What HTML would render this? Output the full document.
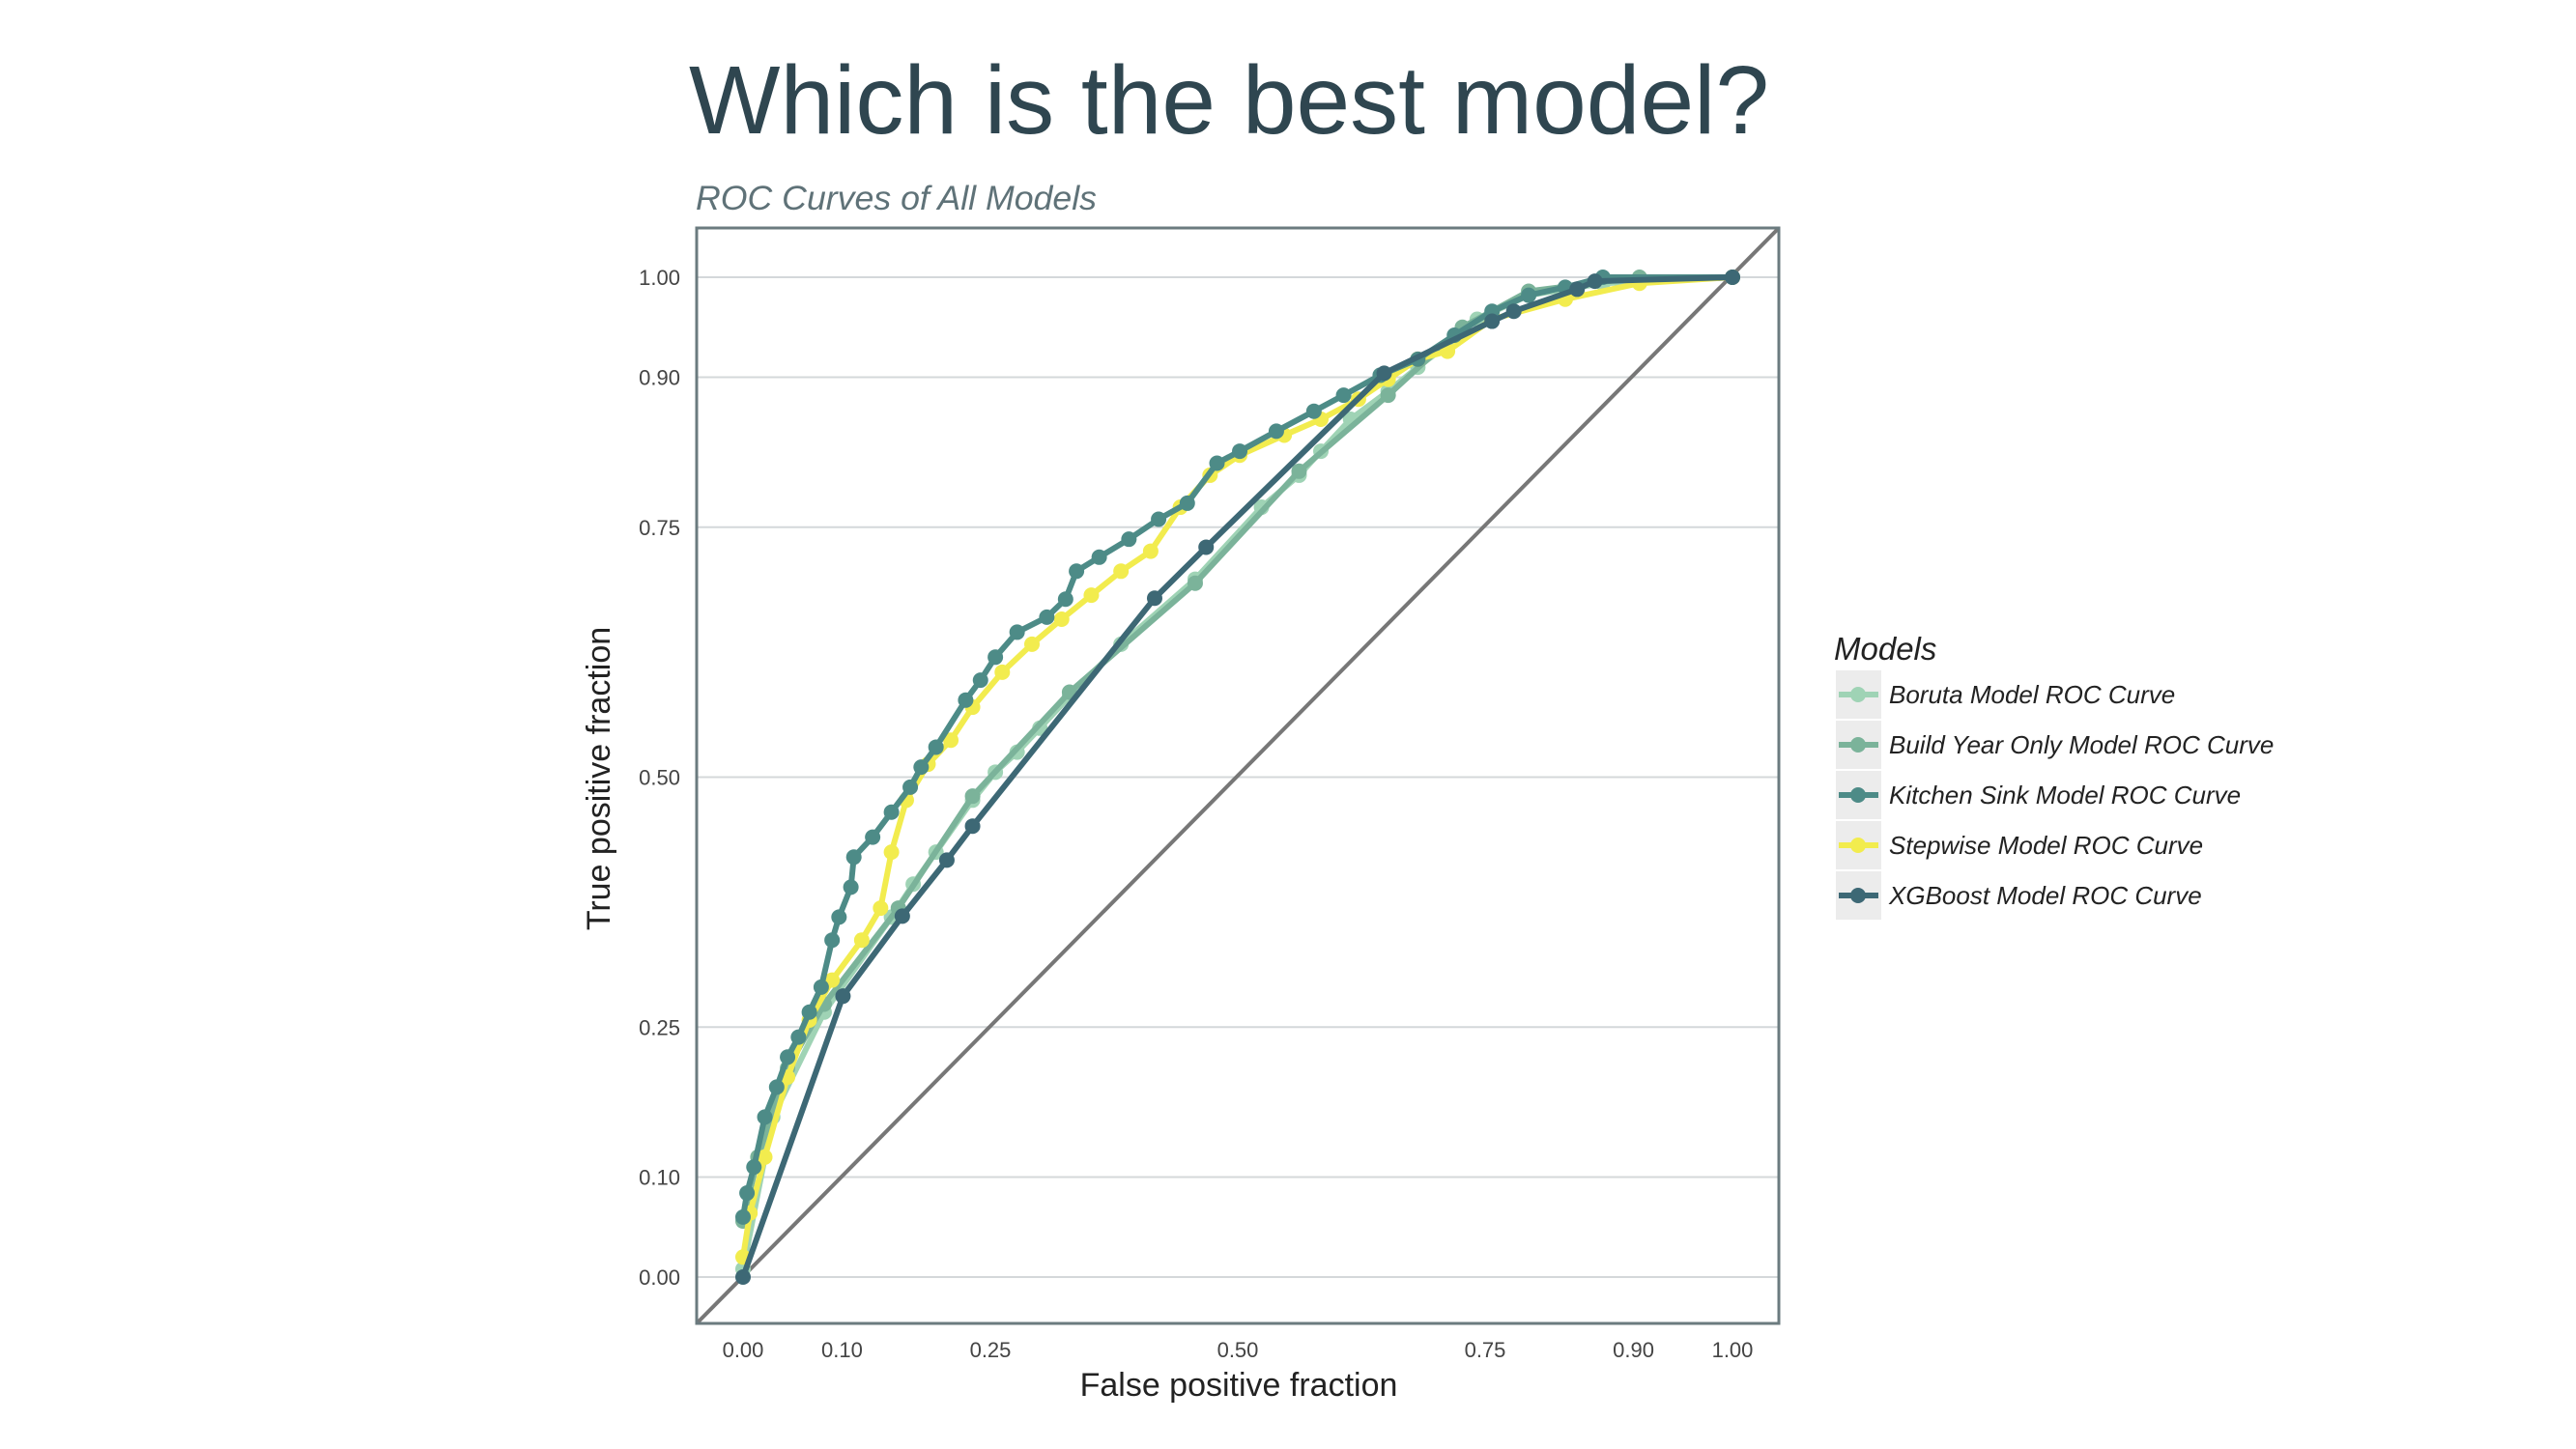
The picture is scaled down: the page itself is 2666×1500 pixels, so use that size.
<!DOCTYPE html>
<html><head><meta charset="utf-8"><style>
html,body{margin:0;padding:0;background:#fff}
svg{display:block;font-family:"Liberation Sans",sans-serif}
</style></head><body>
<svg id="chart" width="2666" height="1500" viewBox="0 0 2666 1500">
<text x="713" y="138" font-size="100" fill="#2f4650" textLength="1118" lengthAdjust="spacingAndGlyphs">Which is the best model?</text>
<text x="720" y="217" font-size="35" font-style="italic" fill="#5f7278" textLength="415" lengthAdjust="spacingAndGlyphs">ROC Curves of All Models</text>
<g id="grid"></g>
<g id="series"></g>
<rect x="721" y="236" width="1120" height="1134" fill="none" stroke="#6b7b7f" stroke-width="3"/>
<g id="ticks"></g>
<text x="1282" y="1445" font-size="34" text-anchor="middle" fill="#222">False positive fraction</text>
<text transform="translate(631,806) rotate(-90)" font-size="34" text-anchor="middle" fill="#222">True positive fraction</text>
<g id="legend"></g>
</svg>
<script>
const tickVals = [0, 0.10, 0.25, 0.50, 0.75, 0.90, 1.00];
const tickLabels = ["0.00","0.10","0.25","0.50","0.75","0.90","1.00"];
const seriesNames = ["Boruta Model ROC Curve","Build Year Only Model ROC Curve","Kitchen Sink Model ROC Curve","Stepwise Model ROC Curve","XGBoost Model ROC Curve"];
const seriesColors = ["#9fd3b5","#7bb39a","#4d8b87","#f2ec4e","#3d6875"];
const borutaFpr = [0,0.03,0.082,0.15,0.172,0.195,0.232,0.255,0.277,0.3,0.33,0.382,0.457,0.524,0.562,0.584,0.614,0.652,0.682,0.719,0.742,0.794,0.869,1];
const borutaTpr = [0.008,0.16,0.265,0.36,0.393,0.425,0.477,0.505,0.525,0.549,0.581,0.633,0.698,0.77,0.802,0.826,0.858,0.886,0.91,0.938,0.958,0.982,0.994,1];
const buildFpr = [0,0.015,0.045,0.082,0.157,0.232,0.33,0.457,0.562,0.652,0.727,0.794,0.906,1];
const buildTpr = [0.056,0.12,0.209,0.273,0.369,0.481,0.585,0.694,0.806,0.882,0.95,0.986,1,1];
const sinkFpr = [0,0.004,0.011,0.022,0.034,0.045,0.056,0.067,0.079,0.09,0.097,0.109,0.112,0.131,0.15,0.169,0.18,0.195,0.225,0.24,0.255,0.277,0.307,0.326,0.337,0.36,0.39,0.42,0.449,0.479,0.502,0.539,0.577,0.607,0.644,0.682,0.719,0.757,0.794,0.831,0.869,1];
const sinkTpr = [0.06,0.084,0.11,0.16,0.19,0.22,0.24,0.265,0.29,0.337,0.36,0.39,0.42,0.44,0.465,0.49,0.51,0.53,0.577,0.597,0.62,0.645,0.66,0.678,0.706,0.72,0.738,0.758,0.774,0.814,0.826,0.846,0.866,0.882,0.902,0.918,0.942,0.966,0.982,0.99,1,1];
const stepFpr = [0,0.007,0.022,0.045,0.067,0.09,0.12,0.139,0.15,0.165,0.187,0.21,0.232,0.262,0.292,0.322,0.352,0.382,0.412,0.442,0.472,0.502,0.547,0.584,0.622,0.652,0.682,0.712,0.757,0.831,0.906,1];
const stepTpr = [0.02,0.064,0.12,0.2,0.257,0.297,0.337,0.369,0.425,0.477,0.513,0.537,0.57,0.605,0.633,0.658,0.682,0.706,0.726,0.77,0.802,0.822,0.842,0.858,0.878,0.898,0.918,0.926,0.958,0.978,0.994,1];
const xgbFpr = [0,0.101,0.161,0.206,0.232,0.416,0.468,0.648,0.757,0.779,0.843,0.861,1];
const xgbTpr = [0,0.281,0.361,0.417,0.451,0.679,0.73,0.904,0.956,0.966,0.988,0.996,1];

const NS="http://www.w3.org/2000/svg";
const X0=769,X1=1793,Y0=1322,Y1=287;
const sx=v=>X0+(X1-X0)*v, sy=v=>Y0+(Y1-Y0)*v;
function mk(tag,attrs,parent){const e=document.createElementNS(NS,tag);for(const k in attrs)e.setAttribute(k,attrs[k]);parent.appendChild(e);return e;}
const grid=document.getElementById('grid'),ticks=document.getElementById('ticks'),ser=document.getElementById('series'),leg=document.getElementById('legend');
tickVals.forEach((v,i)=>{
  const g=mk('line',{x1:721,x2:1841,y1:sy(v),y2:sy(v),stroke:'#d4d8da','stroke-width':2},grid);
  
  
  const ty=mk('text',{x:704,y:sy(v)+8,'font-size':22,'text-anchor':'end',fill:'#444'},ticks);
  ty.textContent=tickLabels[i];
  
  
  const tx=mk('text',{x:sx(v),y:1405,'font-size':22,'text-anchor':'middle',fill:'#444'},ticks);
  tx.textContent=tickLabels[i];
  
  
});
const diag=mk('line',{x1:721,y1:1370,x2:1841,y2:236,stroke:'#777','stroke-width':4},ser);


const allF=[borutaFpr,buildFpr,sinkFpr,stepFpr,xgbFpr], allT=[borutaTpr,buildTpr,sinkTpr,stepTpr,xgbTpr];
const order=[0,1,3,2,4];
const slug=["boruta","build-year","kitchen-sink","stepwise","xgboost"];
order.forEach(s=>{
  const g=mk('g',{},ser);
  
  
  const pts=allF[s].map((f,i)=>sx(f)+','+sy(allT[s][i])).join(' ');
  const pl=mk('polyline',{points:pts,fill:'none',stroke:seriesColors[s],'stroke-width':6,'stroke-linejoin':'round'},g);
  
  
  allF[s].forEach((f,i)=>{
    const c=mk('circle',{cx:sx(f),cy:sy(allT[s][i]),r:8,fill:seriesColors[s]},g);
    
    
  });
});
const lt=mk('text',{x:1898,y:683,'font-size':33,'font-style':'italic',fill:'#222'},leg);
lt.textContent='Models';


seriesNames.forEach((n,i)=>{
  const y=719+52*i;
  const g=mk('g',{},leg);
  
  
  mk('rect',{x:1900,y:y-25,width:47,height:50,fill:'#ececec'},g);
  mk('line',{x1:1903,x2:1944,y1:y,y2:y,stroke:seriesColors[i],'stroke-width':6},g);
  mk('circle',{cx:1923,cy:y,r:8,fill:seriesColors[i]},g);
  const t=mk('text',{x:1955,y:y+9,'font-size':26,'font-style':'italic',fill:'#222'},g);
  t.textContent=n;
  
  
});
</script>
</body></html>
